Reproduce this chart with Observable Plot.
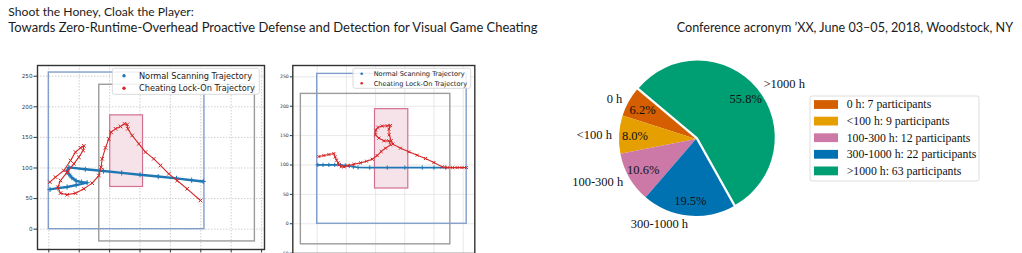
<!DOCTYPE html>
<html>
<head>
<meta charset="utf-8">
<script src="https://cdn.jsdelivr.net/npm/d3@7"></script>
<script src="https://cdn.jsdelivr.net/npm/@observablehq/plot@0.6"></script>
<style>
  html, body { margin: 0; padding: 0; background: #fff; }
  body { width: 1022px; height: 253px; position: relative; overflow: hidden; }
  .panel { position: absolute; }
  .panel svg { display: block; overflow: visible; }
</style>
</head>
<body>
<div id="header" class="panel" style="left:0;top:0"></div>
<div id="traj1" class="panel" style="left:0;top:60px"></div>
<div id="leg1" class="panel" style="left:0;top:0"></div>
<div id="traj2" class="panel" style="left:270px;top:60px"></div>
<div id="leg2" class="panel" style="left:0;top:0"></div>
<div id="pie" class="panel" style="left:560px;top:40px"></div>
<div id="pieLegend" class="panel" style="left:0;top:0"></div>
<script>
// ---------- running header ----------
const headerLines = [
  "Shoot the Honey, Cloak the Player:",
  "Towards Zero-Runtime-Overhead Proactive Defense and Detection for Visual Game Cheating"
];
const headerRight = "Conference acronym \u2019XX, June 03\u201305, 2018, Woodstock, NY";

// ---------- trajectory panels (screen coordinates in pixels of the game view) ----------
const ticks1X = [0, 50, 100, 150, 200, 250, 300, 350];
const ticks1Y = [0, 50, 100, 150, 200, 250];
const ticks2X = [0, 50, 100, 150, 200, 250];
const ticks2Y = [-50, 0, 50, 100, 150, 200, 250];
const trajectoryNames = ["Normal Scanning Trajectory", "Cheating Lock-On Trajectory"];

// view window, shifted view window and target region
const boxes1 = [
  {kind: "view",   x1: 0,   x2: 256, y1: 0,   y2: 256},
  {kind: "moved",  x1: 83,  x2: 339, y1: -20, y2: 236},
  {kind: "target", x1: 101, x2: 155, y1: 69,  y2: 186}
];
const boxes2 = [
  {kind: "view",   x1: 0,   x2: 256, y1: 0,   y2: 255},
  {kind: "moved",  x1: -28, x2: 228, y1: -35, y2: 221},
  {kind: "target", x1: 99,  x2: 156, y1: 60,  y2: 195}
];

const normal1 = [
  [2, 65], [15, 67], [30, 69], [45, 72], [63, 76], [54, 77], [45, 79], [38, 84],
  [33, 90], [30, 95], [33, 101], [60, 98], [90, 95], [120, 92], [150, 89],
  [180, 86], [210, 83], [235, 80], [254, 78]
];
const cheat1 = [
  [1.7, 76.9], [11.0, 85.0], [24.7, 95.9], [35.7, 112.3], [43.9, 125.9], [52.1, 133.0],
  [57.6, 136.2], [56.5, 128.6], [49.4, 117.7], [41.2, 106.8], [30.2, 93.2], [19.2, 79.5],
  [14.9, 68.7], [19.2, 58.9], [30.2, 56.2], [43.9, 58.9], [57.6, 65.9], [71.3, 75.2],
  [82.3, 87.7], [86.1, 101.4], [87.7, 115.0], [93.2, 133.0], [98.7, 147.6], [102.5, 158.6],
  [109.7, 164.0], [117.9, 167.8], [124.5, 172.2], [128.9, 171.1], [130.0, 164.0],
  [137.1, 153.1], [148.1, 139.5], [159.0, 125.9], [172.7, 115.0], [183.7, 104.1],
  [197.4, 90.5], [211.1, 79.5], [227.5, 65.9], [249.5, 46.9]
];
const normal2 = [
  [1, 100.2], [10, 100.2], [20, 100.2], [30, 100.2], [40, 100], [48, 99.2], [55, 98.3],
  [62, 97], [70, 95.8], [90, 95.6], [120, 95.6], [150, 95.6], [180, 95.6], [200, 95.6], [220, 95.6]
];
const cheat2 = [
  [2.9, 114.4], [11.4, 116.1], [20.0, 117.8], [28.5, 119.5], [30.8, 113.8], [33.1, 108.1],
  [36.0, 103.6], [37.7, 100.2], [41.1, 97.3], [45.7, 96.8], [52.5, 99.0], [62.8, 101.3],
  [74.2, 103.6], [84.5, 106.4], [94.2, 109.8], [102.7, 116.1], [109.6, 122.9], [117.0, 128.6],
  [125.6, 134.3], [122.7, 141.1], [114.2, 141.1], [105.6, 145.7], [99.9, 151.4], [100.5, 159.4],
  [103.9, 163.9], [111.3, 166.2], [119.9, 166.8], [125.6, 167.3], [122.7, 161.1], [123.3, 151.4],
  [126.7, 141.1], [129.6, 135.5], [142.7, 128.6], [157.0, 122.4], [171.2, 116.7], [185.5, 111.0],
  [199.8, 104.2], [214.0, 96.8], [222.6, 95.6], [232, 95.6], [239.7, 95.6], [248, 95.6], [255.7, 95.6]
];

// ---------- gaming-experience pie ----------
const groups = ["0 h", "<100 h", "100-300 h", "300-1000 h", ">1000 h"];
const participants = [7, 9, 12, 22, 63];
const groupColors = ["#d55e00", "#e69f00", "#cc79a7", "#0072b2", "#009e73"];
const explode = [0, 0, 0, 0, 0.03];

const BLUE = "#1f77b4", RED = "#d62728";

function trajectoryPlot(cfg) {
  const box = k => cfg.boxes.filter(b => b.kind === k);
  return Plot.plot({
    width: cfg.width, height: cfg.height,
    marginLeft: cfg.ml, marginRight: cfg.mr, marginTop: cfg.mt, marginBottom: cfg.mb,
    x: {domain: cfg.xd, axis: null},
    y: {domain: cfg.yd, axis: null},
    style: {fontFamily: "DejaVu Sans, sans-serif", background: "transparent", overflow: "visible"},
    marks: [
      Plot.gridX(cfg.tx, {stroke: cfg.gridColor, strokeOpacity: 1, strokeWidth: 0.8, strokeDasharray: cfg.gridDash}),
      Plot.gridY(cfg.ty, {stroke: cfg.gridColor, strokeOpacity: 1, strokeWidth: 0.8, strokeDasharray: cfg.gridDash}),
      Plot.rect(box("target"), {x1: "x1", x2: "x2", y1: "y1", y2: "y2", fill: "#f6e3ea", stroke: "#d2708f", strokeWidth: 1.2}),
      Plot.rect(box("view"), {x1: "x1", x2: "x2", y1: "y1", y2: "y2", fill: "none", stroke: "#819ecb", strokeWidth: 1.4}),
      Plot.rect(box("moved"), {x1: "x1", x2: "x2", y1: "y1", y2: "y2", fill: "none", stroke: "#9c9c9c", strokeWidth: 1.4}),
      Plot.line(cfg.normal, {stroke: BLUE, strokeWidth: cfg.blueWidth}),
      Plot.dot(cfg.normal, {symbol: "plus", r: cfg.markR, stroke: BLUE, strokeWidth: 1}),
      Plot.line(cfg.cheat, {stroke: RED, strokeWidth: 1.1}),
      Plot.dot(cfg.cheat, {symbol: "times", r: cfg.markR, stroke: RED, strokeWidth: 1}),
      Plot.frame({stroke: "#333", strokeWidth: 1.4}),
      Plot.axisY(cfg.ty, {anchor: "left", tickSize: cfg.tickSize, tickPadding: 1.5, fontSize: cfg.tickFont, color: "#333"}),
      Plot.axisX(cfg.tx, {anchor: "bottom", tickSize: cfg.tickSize, tickFormat: () => "", color: "#333"})
    ]
  });
}

document.getElementById("traj1").append(trajectoryPlot({
  width: 270, height: 193, ml: 37, mr: 6, mt: 5, mb: 4,
  xd: [-18.6, 354.8], yd: [-33.2, 267.5],
  tx: ticks1X, ty: ticks1Y, boxes: boxes1, normal: normal1, cheat: cheat1,
  gridColor: "#c4c4c4", gridDash: "1.5,1.5", blueWidth: 2.4, markR: 1.8,
  tickSize: 3.5, tickFont: 5.6
}));
document.getElementById("traj2").append(trajectoryPlot({
  width: 210, height: 193, ml: 22.3, mr: 5.7, mt: 5, mb: 0,
  xd: [-41.8, 269.9], yd: [-50.6, 269.3],
  tx: ticks2X, ty: ticks2Y, boxes: boxes2, normal: normal2, cheat: cheat2,
  gridColor: "#e2e2e2", gridDash: null, blueWidth: 1.6, markR: 1.5,
  tickSize: 2.5, tickFont: 4.6
}));

// matplotlib-style legend boxes for the trajectory panels
function trajLegend(el, o) {
  const svg = d3.select(el).append("svg").attr("width", 1022).attr("height", 253)
    .style("position", "absolute").style("left", 0).style("top", 0).style("pointer-events", "none");
  svg.append("rect").attr("x", o.x).attr("y", o.y).attr("width", o.w).attr("height", o.h)
    .attr("rx", 2).attr("fill", "rgba(255,255,255,0.85)").attr("stroke", "#d6d6d6").attr("stroke-width", 0.9);
  trajectoryNames.forEach((name, i) => {
    const cy = o.y + o.row0 + i * o.dy;
    svg.append("circle").attr("cx", o.dotX).attr("cy", cy).attr("r", o.dotR).attr("fill", i ? RED : BLUE);
    svg.append("text").attr("x", o.textX).attr("y", cy).attr("dy", "0.36em")
      .attr("font-family", "DejaVu Sans, sans-serif").attr("font-size", o.font).attr("fill", "#222").text(name);
  });
}
trajLegend(document.getElementById("leg1"), {x: 112.3, y: 68.3, w: 147, h: 26, row0: 7.4, dy: 12.6, dotX: 124, dotR: 1.7, textX: 139, font: 8.2});
trajLegend(document.getElementById("leg2"), {x: 353, y: 68.3, w: 117.7, h: 20, row0: 5.4, dy: 9.6, dotX: 361.7, dotR: 1.3, textX: 373.7, font: 6.6});

// ---------- pie ----------
const pieW = 240, pieH = 213, centerX = 136, centerY = 99, radiusPx = 77;
const total = d3.sum(participants);
const startDeg = 140;
let acc = 0;
const slices = groups.map((g, i) => {
  const a0 = startDeg + 360 * acc / total;
  acc += participants[i];
  const a1 = startDeg + 360 * acc / total;
  const mid = (a0 + a1) / 2 * Math.PI / 180;
  const ox = explode[i] * Math.cos(mid), oy = explode[i] * Math.sin(mid);
  return {
    group: g, value: participants[i], color: groupColors[i], a0, a1, ox, oy,
    pct: (100 * participants[i] / total).toFixed(1) + "%",
    px: ox + 0.8 * Math.cos(mid), py: oy + 0.8 * Math.sin(mid),
    lx: ox + 1.1 * Math.cos(mid), ly: oy + 1.1 * Math.sin(mid)
  };
});

function wedges(index, scales) {
  const {x, y} = scales;
  const r = x(1) - x(0);
  const g = d3.create("svg:g");
  const arc = d3.arc();
  for (const s of slices) {
    g.append("path")
      .attr("transform", `translate(${x(s.ox)},${y(s.oy)})`)
      .attr("fill", s.color)
      .attr("d", arc({innerRadius: 0, outerRadius: r,
        startAngle: (90 - s.a1) * Math.PI / 180, endAngle: (90 - s.a0) * Math.PI / 180}));
  }
  return g.node();
}

const labelText = {x: "lx", y: "ly", text: "group", fontSize: 12.5, fill: "#111"};
document.getElementById("pie").append(Plot.plot({
  width: pieW, height: pieH, margin: 0,
  x: {domain: [-centerX / radiusPx, (pieW - centerX) / radiusPx], axis: null},
  y: {domain: [-(pieH - centerY) / radiusPx, centerY / radiusPx], axis: null},
  style: {fontFamily: "Liberation Serif, serif", background: "transparent", overflow: "visible"},
  marks: [
    wedges,
    Plot.text(slices, {x: "px", y: "py", text: "pct", fontSize: 12.5, fill: "#111"}),
    Plot.text(slices.filter(s => s.lx < 0), {...labelText, textAnchor: "end"}),
    Plot.text(slices.filter(s => s.lx >= 0), {...labelText, textAnchor: "start"})
  ]
}));

// pie legend
(function () {
  const svg = d3.select("#pieLegend").append("svg").attr("width", 1022).attr("height", 253)
    .style("position", "absolute").style("left", 0).style("top", 0);
  svg.append("rect").attr("x", 810).attr("y", 96).attr("width", 169).attr("height", 85)
    .attr("rx", 2).attr("fill", "#fff").attr("stroke", "#d9d9d9").attr("stroke-width", 0.9);
  slices.forEach((s, i) => {
    const cy = 104.5 + i * 16.6;
    svg.append("rect").attr("x", 814).attr("y", cy - 4.4).attr("width", 24).attr("height", 8.8).attr("fill", s.color);
    svg.append("text").attr("x", 846.7).attr("y", cy).attr("dy", "0.34em")
      .attr("font-family", "Liberation Serif, serif").attr("font-size", 11.75).attr("fill", "#111")
      .text(`${s.group}: ${s.value} participants`);
  });
})();

// header text, sized to the page's running-head widths
(function () {
  const svg = d3.select("#header").append("svg").attr("width", 1022).attr("height", 40);
  const items = [
    {text: headerLines[0], x: 8.3, y: 16.3, w: 185.7},
    {text: headerLines[1], x: 8.3, y: 32.3, w: 529.7},
    {text: headerRight, x: 676.7, y: 32.3, w: 336.6}
  ];
  for (const it of items) {
    const t = svg.append("text").attr("x", it.x).attr("y", it.y)
      .attr("font-family", "Lato, 'Open Sans', sans-serif").attr("font-size", 12).attr("fill", "#1c1c1c").text(it.text);
    const len = t.node().getComputedTextLength();
    if (len > 0) t.attr("font-size", 12 * it.w / len);
  }
})();
</script>
</body>
</html>
